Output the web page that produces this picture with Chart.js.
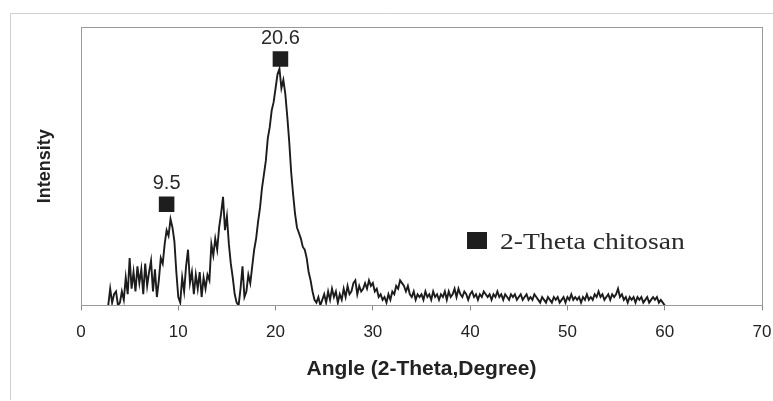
<!DOCTYPE html>
<html>
<head>
<meta charset="utf-8">
<script src="https://cdn.jsdelivr.net/npm/chart.js@4.4.1/dist/chart.umd.min.js"></script>
<style>
  html, body { margin: 0; padding: 0; background: #ffffff; }
  #wrap { position: relative; width: 773px; height: 401px; }
  canvas { display: block; }
</style>
</head>
<body>
<div id="wrap"><canvas id="c" width="773" height="401"></canvas></div>
<script>
// ---- Data ----
// 2-theta angles (degrees), sampled every 0.2 degree from 2.8 to 60
const angles = [
  2.8,
  3.0,3.2,3.4,3.6,3.8,4.0,4.2,4.4,4.6,4.8,
  5.0,5.2,5.4,5.6,5.8,6.0,6.2,6.4,6.6,6.8,
  7.0,7.2,7.4,7.6,7.8,8.0,8.2,8.4,8.6,8.8,
  9.0,9.2,9.4,9.6,9.8,10.0,10.2,10.4,10.6,10.8,
  11.0,11.2,11.4,11.6,11.8,12.0,12.2,12.4,12.6,12.8,
  13.0,13.2,13.4,13.6,13.8,14.0,14.2,14.4,14.6,14.8,
  15.0,15.2,15.4,15.6,15.8,16.0,16.2,16.4,16.6,16.8,
  17.0,17.2,17.4,17.6,17.8,18.0,18.2,18.4,18.6,18.8,
  19.0,19.2,19.4,19.6,19.8,20.0,20.2,20.4,20.6,20.8,
  21.0,21.2,21.4,21.6,21.8,22.0,22.2,22.4,22.6,22.8,
  23.0,23.2,23.4,23.6,23.8,24.0,24.2,24.4,24.6,24.8,
  25.0,25.2,25.4,25.6,25.8,26.0,26.2,26.4,26.6,26.8,
  27.0,27.2,27.4,27.6,27.8,28.0,28.2,28.4,28.6,28.8,
  29.0,29.2,29.4,29.6,29.8,30.0,30.2,30.4,30.6,30.8,
  31.0,31.2,31.4,31.6,31.8,32.0,32.2,32.4,32.6,32.8,
  33.0,33.2,33.4,33.6,33.8,34.0,34.2,34.4,34.6,34.8,
  35.0,35.2,35.4,35.6,35.8,36.0,36.2,36.4,36.6,36.8,
  37.0,37.2,37.4,37.6,37.8,38.0,38.2,38.4,38.6,38.8,
  39.0,39.2,39.4,39.6,39.8,40.0,40.2,40.4,40.6,40.8,
  41.0,41.2,41.4,41.6,41.8,42.0,42.2,42.4,42.6,42.8,
  43.0,43.2,43.4,43.6,43.8,44.0,44.2,44.4,44.6,44.8,
  45.0,45.2,45.4,45.6,45.8,46.0,46.2,46.4,46.6,46.8,
  47.0,47.2,47.4,47.6,47.8,48.0,48.2,48.4,48.6,48.8,
  49.0,49.2,49.4,49.6,49.8,50.0,50.2,50.4,50.6,50.8,
  51.0,51.2,51.4,51.6,51.8,52.0,52.2,52.4,52.6,52.8,
  53.0,53.2,53.4,53.6,53.8,54.0,54.2,54.4,54.6,54.8,
  55.0,55.2,55.4,55.6,55.8,56.0,56.2,56.4,56.6,56.8,
  57.0,57.2,57.4,57.6,57.8,58.0,58.2,58.4,58.6,58.8,
  59.0,59.2,59.4,59.6,59.8,60.0
];
// Relative intensity (0-100 scale of the plot height)
const intensity = [
  0,
  6,1,4,5,0,1,5,2,10,4,
  17,6,12,5,14,8,13,4,15,7,
  12,16,5,13,3,9,17,15,22,27,
  25,31,28,23,12,3,1,10,5,14,
  20,8,12,4,11,6,12,3,10,6,
  11,9,22,18,24,20,28,33,39,27,
  32,22,15,10,4,1,0,6,14,3,
  5,11,8,14,20,24,30,35,42,47,
  52,60,64,70,73,78,83,85,78,81,
  76,68,59,48,40,33,28,26,24,21,
  20,17,12,9,5,2,1,3,0,2,
  4,1,5,2,6,3,5,1,4,2,
  6,3,7,4,5,8,9,4,7,5,
  6,8,6,9,7,8,5,6,3,4,
  2,3,1,4,2,5,4,7,6,9,
  8,7,5,7,4,3,5,2,4,3,
  4,2,5,3,4,2,5,3,4,2,
  4,3,5,2,5,3,4,6,3,6,
  4,3,5,4,2,4,5,3,4,2,
  4,3,5,4,3,4,2,4,3,5,
  3,4,2,4,3,2,4,3,4,2,
  3,4,2,3,4,2,3,2,4,3,
  2,1,3,2,1,3,2,1,3,2,
  3,1,2,3,1,3,2,4,2,3,
  2,3,1,3,2,4,2,3,2,4,
  3,5,3,4,2,3,4,2,4,3,
  4,6,3,4,2,3,1,3,2,3,
  1,3,2,3,1,2,3,1,2,3,
  2,3,1,2,1,0
];
// Peak markers (square boxes) and their labels
const peakMarkerX = [8.8, 20.5];
const peakMarkerY = [36.3, 88.5];
const peakLabels = ["9.5", "20.6"];
// Axis
const xTickMin = 0, xTickMax = 70, xTickStep = 10;
const seriesName = "2-Theta chitosan";
const xTitle = "Angle (2-Theta,Degree)";
const yTitle = "Intensity";

const lineData = angles.map((a, i) => ({ x: a, y: intensity[i] }));
const markerData = peakMarkerX.map((a, i) => ({ x: a, y: peakMarkerY[i] }));

const framePlugin = {
  id: 'frame',
  beforeDraw(chart) {
    const ctx = chart.ctx;
    ctx.save();
    ctx.fillStyle = '#ffffff';
    ctx.fillRect(0, 0, chart.width, chart.height);
    // outer chart frame
    ctx.strokeStyle = '#d0d0d0';
    ctx.lineWidth = 1;
    ctx.beginPath();
    ctx.moveTo(10.5, 400);
    ctx.lineTo(10.5, 13.5);
    ctx.lineTo(773, 13.5);
    ctx.stroke();
    ctx.restore();
  },
  afterDatasetsDraw(chart) {
    const ctx = chart.ctx;
    const a = chart.chartArea;
    ctx.save();
    ctx.strokeStyle = '#9a9a9a';
    ctx.lineWidth = 1;
    ctx.strokeRect(Math.round(a.left) + 0.5, Math.round(a.top) + 0.5,
                   Math.round(a.right - a.left), Math.round(a.bottom - a.top));
    // peak labels above the marker boxes
    const xs = chart.scales.x, ys = chart.scales.y;
    ctx.fillStyle = '#2a2a2a';
    ctx.font = '20px "Liberation Sans", Arial, sans-serif';
    ctx.textAlign = 'center';
    ctx.textBaseline = 'middle';
    peakLabels.forEach((t, i) => {
      ctx.fillText(t, xs.getPixelForValue(peakMarkerX[i]), ys.getPixelForValue(peakMarkerY[i]) - 21);
    });
    // legend
    ctx.fillStyle = '#1e1e1e';
    ctx.fillRect(467, 232, 20, 17);
    ctx.fillStyle = '#2a2a2a';
    ctx.font = '23px "Liberation Serif", "Times New Roman", serif';
    ctx.textAlign = 'left';
    ctx.textBaseline = 'alphabetic';
    ctx.translate(500, 249);
    ctx.scale(1.2, 1);
    ctx.fillText(seriesName, 0, 0);
    ctx.restore();
  }
};

new Chart(document.getElementById('c'), {
  type: 'scatter',
  data: {
    datasets: [
      {
        label: seriesName,
        data: lineData,
        showLine: true,
        borderColor: '#1c1c1c',
        borderWidth: 1.9,
        pointRadius: 0,
        tension: 0
      },
      {
        label: 'peaks',
        data: markerData,
        showLine: false,
        pointStyle: 'rect',
        pointRadius: 11,
        backgroundColor: '#1e1e1e',
        borderColor: '#1e1e1e',
        borderWidth: 0
      }
    ]
  },
  options: {
    responsive: false,
    animation: false,
    devicePixelRatio: 1,
    layout: { padding: { left: 31.4, top: 27, right: 8, bottom: 19 } },
    plugins: { legend: { display: false }, tooltip: { enabled: false } },
    scales: {
      x: {
        type: 'linear',
        min: xTickMin, max: xTickMax,
        afterFit: (s) => { s.paddingRight = 9; },
        ticks: {
          stepSize: xTickStep,
          color: '#222',
          font: { family: '"Liberation Sans", Arial, sans-serif', size: 17 },
          padding: 12,
          maxRotation: 0
        },
        grid: { drawOnChartArea: false, drawTicks: true, tickLength: 5, color: '#888' },
        border: { display: false },
        title: {
          display: true, text: xTitle, color: '#222',
          font: { family: '"Liberation Sans", Arial, sans-serif', size: 21, weight: 'bold' },
          padding: { top: 2, bottom: 0 }
        }
      },
      y: {
        min: 0, max: 100,
        ticks: { display: false },
        grid: { display: false, drawTicks: false },
        border: { display: false },
        title: {
          display: true, text: yTitle, color: '#222',
          font: { family: '"Liberation Sans", Arial, sans-serif', size: 18, weight: 'bold' },
          padding: { top: 3, bottom: 25 }
        }
      }
    }
  },
  plugins: [framePlugin]
});
</script>
</body>
</html>
